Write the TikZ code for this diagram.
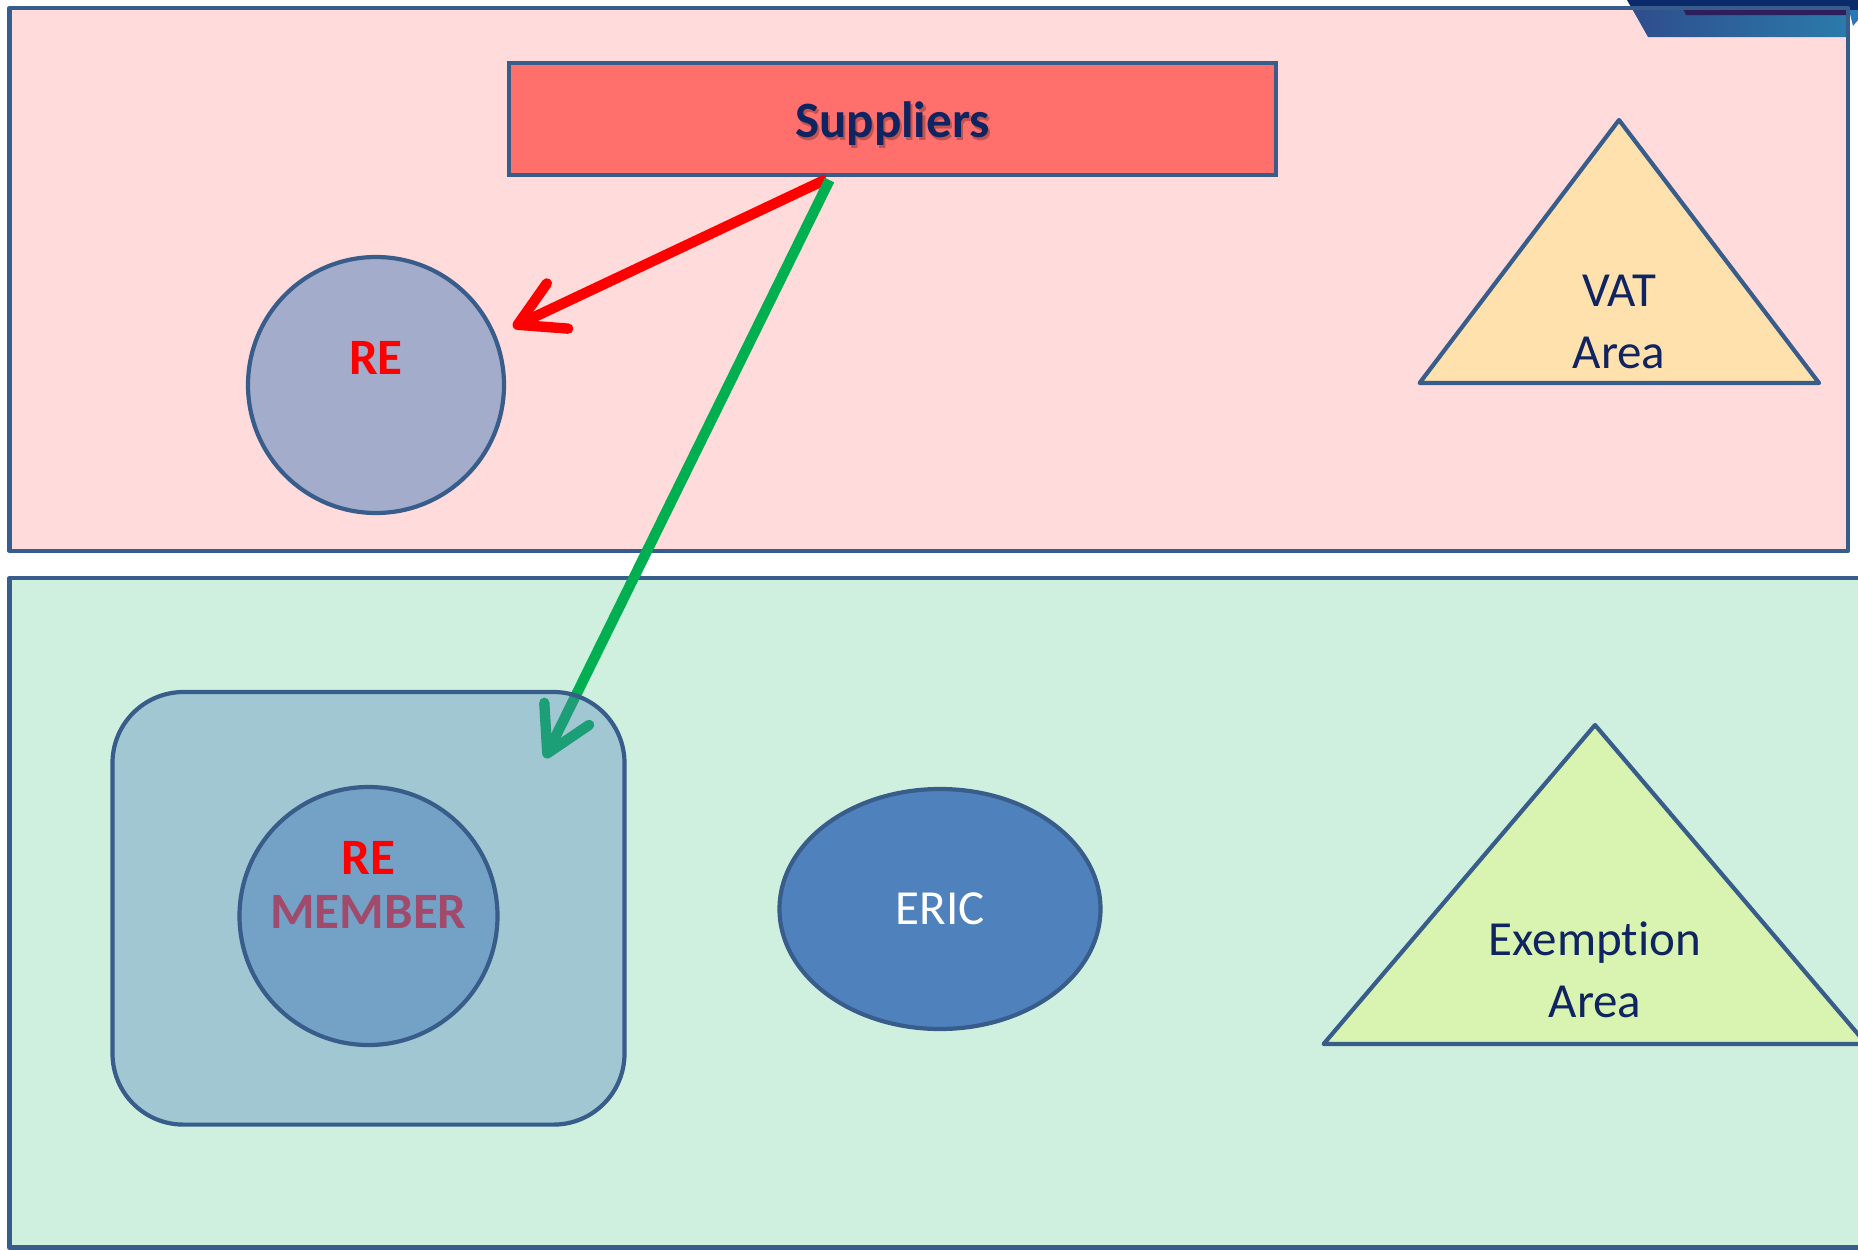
\documentclass[tikz,border=0pt]{standalone}
\usepackage{fontspec}
\setmainfont{Carlito}[Ligatures=NoCommon]
\usetikzlibrary{arrows.meta,shapes.geometric}

\definecolor{edge}{HTML}{385D8A}
\definecolor{vatbg}{HTML}{FFDBDB}
\definecolor{exbg}{HTML}{CFF0DE}
\definecolor{supfill}{HTML}{FF6F6B}
\definecolor{refill}{HTML}{A3ADCB}
\definecolor{vatfill}{HTML}{FFE1AD}
\definecolor{exfill}{HTML}{D8F4B0}
\definecolor{accent}{HTML}{4F81BD}
\definecolor{memfill}{HTML}{74A2C6}
\definecolor{navytext}{HTML}{0F2460}
\definecolor{membertext}{HTML}{A24A6C}
\definecolor{arrowgreen}{HTML}{00B050}
\definecolor{logonavy}{HTML}{0B2A6B}
\definecolor{logoA}{HTML}{2E4D8C}
\definecolor{logoB}{HTML}{2B7BAA}
\definecolor{logodark}{HTML}{2B1F5E}
\definecolor{logoblue}{HTML}{2878B8}

\begin{document}
\begin{tikzpicture}[x=0.5pt,y=-0.5pt,
  outline/.style={draw=edge,line width=2.1pt,line join=round},
  regtxt/.style={font=\fontsize{24.5}{30.8}\selectfont,text=navytext,align=center,inner sep=0pt},
  boldtxt/.style={font=\fontsize{25.5}{27.3}\selectfont\bfseries,align=center,inner sep=0pt},
  flow/.style={line width=5.2pt,-{Straight Barb[length=22pt,width=25pt,round]}}
]
\useasboundingbox (0,0) rectangle (1858,1249);
\clip (0,0) rectangle (1858,1249);

% VAT region with the corner badge, then its frame
\fill[vatbg] (9.5,8) rectangle (1848,551);
\fill[logonavy] (1627,0) -- (1858,0) -- (1858,10) -- (1632.7,10) -- cycle;
\shade[left color=logoA,right color=logoB] (1632.2,9) -- (1847,9) -- (1847,37) -- (1648,37) -- cycle;
\fill[logodark] (1683,9) -- (1847,9) -- (1847,15) -- (1686,15) -- cycle;
\fill[logoblue] (1849,10) -- (1858,10) -- (1858,20) -- (1853,26) -- cycle;
\draw[outline] (9.5,8) rectangle (1848,551);

% exemption region
\draw[outline,fill=exbg] (9.5,578) rectangle (1890,1247.5);

% suppliers
\node[outline,fill=supfill,rectangle,line join=miter,minimum width=383.5pt,minimum height=56pt,inner sep=0pt] (sup) at (892.5,119) {};
\node[boldtxt,text=black,text opacity=0.25] (supshadow) at ([xshift=1.1pt,yshift=-3.6pt]sup.center) {Suppliers};
\node[boldtxt,text=navytext] (suptxt) at ([yshift=-2.5pt]sup.center) {Suppliers};

% RE in the VAT area
\node[outline,fill=refill,circle,minimum size=128pt,inner sep=0pt] (re) at (376,385) {};
\node[boldtxt,text=red] (retxt) at (376,358) {RE};

% VAT area triangle
\draw[outline,fill=vatfill] (1619,120) -- (1419.6,383) -- (1819,383) -- cycle;
\node[regtxt] (vat) at (1619,322) {VAT\\Area};

% flows out of the suppliers
\coordinate (retip) at (513,327);
\coordinate (grtip) at (545,758);
\draw[flow,red] ([xshift=-33pt,yshift=-1pt]sup.south) -- (retip);
\draw[flow,arrowgreen] ([xshift=-31.5pt,yshift=-1.5pt]sup.south) -- (grtip);

% translucent group holding the RE member
\node[rectangle,rounded corners=35.5pt,minimum width=256pt,minimum height=216.3pt,inner sep=0pt,
      fill=accent,fill opacity=0.36,draw=edge,draw opacity=1,line width=2.1pt] (grp) at (368.5,908.3) {};
\node[outline,fill=memfill,circle,minimum size=129pt,inner sep=0pt] (rem) at (368.5,916) {};
\node[boldtxt] (remtxt) at (368.5,885) {\textcolor{red}{RE}\\\textcolor{membertext}{MEMBER}};

% ERIC
\node[outline,fill=accent,ellipse,minimum width=160.5pt,minimum height=120pt,inner sep=0pt,
      font=\fontsize{24.5}{30.8}\selectfont,text=white] (eric) at (940,909) {ERIC};

% exemption area triangle
\draw[outline,fill=exfill] (1595,725) -- (1323.6,1044) -- (1866.4,1044) -- cycle;
\node[regtxt] (exempt) at (1595,970) {Exemption\\Area};
\end{tikzpicture}
\end{document}
